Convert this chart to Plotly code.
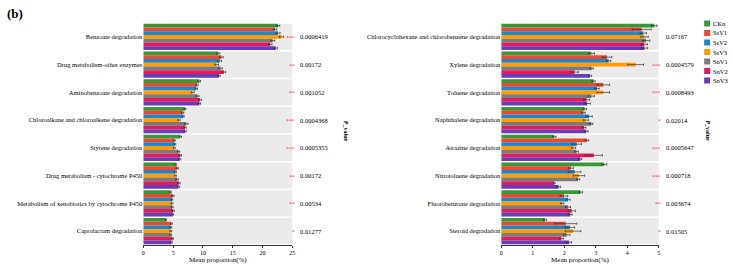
import plotly.graph_objects as go

series = ["CKn", "SsV1", "SsV2", "SsV3", "SnV1", "SnV2", "SnV3"]
colors = ["#3a983a", "#ea4a2f", "#1f86cc", "#ff9d00", "#7b7b7b", "#e41b5c", "#6a3db8"]

left_cats = ["Benzoate degradation", "Drug metabolism-other enzymes", "Aminobenzoate degradation",
             "Chloroalkane and chloroalkene degradation", "Styrene degradation",
             "Drug metabolism - cytochrome P450", "Metabolism of xenobiotics by cytochrome P450",
             "Caprolactam degradation"]
left_vals = {
    "CKn":  [22.6, 12.6, 9.4, 7.0, 6.2, 5.45, 4.55, 3.8],
    "SsV1": [22.1, 13.1, 9.0, 6.6, 5.2, 5.7, 4.95, 4.7],
    "SsV2": [22.6, 12.8, 8.9, 6.7, 5.3, 5.4, 4.8, 4.6],
    "SsV3": [23.2, 12.3, 8.3, 6.0, 5.2, 5.4, 4.8, 4.6],
    "SnV1": [21.7, 12.95, 9.1, 7.2, 5.9, 5.65, 4.85, 4.6],
    "SnV2": [21.3, 13.5, 9.5, 7.0, 6.2, 5.95, 5.0, 4.9],
    "SnV3": [22.2, 12.7, 9.4, 7.0, 6.1, 5.9, 4.95, 4.7],
}
left_err = {
    "CKn":  [0.3, 0.25, 0.2, 0.15, 0.2, 0.15, 0.15, 0.1],
    "SsV1": [0.3, 0.3, 0.2, 0.2, 0.15, 0.2, 0.2, 0.15],
    "SsV2": [0.35, 0.3, 0.2, 0.15, 0.15, 0.15, 0.15, 0.15],
    "SsV3": [0.35, 0.3, 0.25, 0.2, 0.15, 0.15, 0.15, 0.15],
    "SnV1": [0.35, 0.3, 0.25, 0.3, 0.2, 0.2, 0.15, 0.15],
    "SnV2": [0.3, 0.3, 0.25, 0.2, 0.2, 0.2, 0.2, 0.15],
    "SnV3": [0.3, 0.2, 0.2, 0.2, 0.2, 0.2, 0.15, 0.15],
}
left_p = ["0.0006419", "0.00172", "0.001052", "0.0004368", "0.0005355", "0.00172", "0.00534", "0.01277"]

right_cats = ["Chlorocyclohexane and chlorobenzene degradation", "Xylene degradation", "Toluene degradation",
              "Naphthalene degradation", "Atrazine degradation", "Nitrotoluene degradation",
              "Fluorobenzoate degradation", "Steroid degradation"]
right_vals = {
    "CKn":  [4.86, 2.86, 2.93, 2.65, 1.68, 3.27, 2.52, 1.39],
    "SsV1": [4.46, 3.36, 3.24, 2.61, 2.72, 2.21, 1.99, 2.05],
    "SsV2": [4.51, 3.41, 3.04, 2.79, 2.40, 2.33, 2.12, 2.18],
    "SsV3": [4.55, 4.27, 3.24, 2.69, 2.30, 2.47, 1.94, 2.28],
    "SnV1": [4.60, 2.87, 2.86, 2.86, 2.39, 2.44, 2.12, 2.08],
    "SnV2": [4.54, 2.33, 2.71, 2.63, 2.94, 1.68, 2.24, 1.91],
    "SnV3": [4.55, 2.82, 2.73, 2.70, 2.51, 1.82, 2.19, 2.15],
}
right_err = {
    "CKn":  [0.08, 0.1, 0.05, 0.06, 0.06, 0.08, 0.06, 0.05],
    "SsV1": [0.3, 0.15, 0.2, 0.06, 0.06, 0.08, 0.12, 0.35],
    "SsV2": [0.1, 0.07, 0.07, 0.1, 0.15, 0.2, 0.06, 0.15],
    "SsV3": [0.12, 0.25, 0.2, 0.08, 0.06, 0.18, 0.05, 0.25],
    "SnV1": [0.12, 0.05, 0.1, 0.05, 0.06, 0.05, 0.08, 0.1],
    "SnV2": [0.1, 0.12, 0.1, 0.06, 0.27, 0.03, 0.12, 0.06],
    "SnV3": [0.1, 0.05, 0.1, 0.06, 0.05, 0.06, 0.06, 0.08],
}
right_p = ["0.07167", "0.0004579", "0.0008493", "0.02014", "0.0005647", "0.000718", "0.003674", "0.01505"]

W, H = 732, 267
FONT = "Liberation Serif"
TXT = "#000000"
ytop, ybot = 23, 245
L = (142.3, 292.3)
R = (502.7, 661.2)


def stars(p):
    v = float(p)
    return "***" if v < 0.001 else "**" if v < 0.01 else "*" if v < 0.05 else ""


fig = go.Figure()
for s, c in zip(series, colors):
    fig.add_trace(go.Bar(y=left_cats, x=left_vals[s], orientation="h", name=s, marker_color=c,
                         marker_line_width=0, xaxis="x", yaxis="y", showlegend=False,
                         error_x=dict(type="data", array=left_err[s], color="#333333",
                                      thickness=0.7, width=1.2)))
for s, c in zip(series, colors):
    fig.add_trace(go.Bar(y=right_cats, x=right_vals[s], orientation="h", name=s, marker_color=c,
                         marker_line_width=0, xaxis="x2", yaxis="y2", showlegend=False,
                         error_x=dict(type="data", array=right_err[s], color="#333333",
                                      thickness=0.7, width=1.2)))

shapes = []
ann = []
for xr, yr, cats in (("x", "y", left_cats), ("x2", "y2", right_cats)):
    for i in range(len(cats)):
        shapes.append(dict(type="rect", xref=xr + " domain", yref=yr, x0=0, x1=1,
                           y0=i - 0.47, y1=i + 0.47, fillcolor="#ebebeb", line_width=0,
                           layer="below"))

for yr, cats, ps, xs in (("y", left_cats, left_p, 297.5), ("y2", right_cats, right_p, 666.5)):
    for cat, p in zip(cats, ps):
        ann.append(dict(xref="paper", yref=yr, x=(xs + 0.5) / W, y=cat, text=p, showarrow=False,
                        xanchor="left", yanchor="middle", font=dict(family=FONT, size=6.5, color=TXT)))
        st = stars(p)
        if st:
            ann.append(dict(xref="paper", yref=yr, x=(xs - 0.5) / W, y=cat, text=st, showarrow=False,
                            xanchor="right", yanchor="middle", yshift=-1,
                            font=dict(family=FONT, size=5.5, color="#ff3030")))

for xp in (346.5, 715.5):
    ann.append(dict(xref="paper", yref="paper", x=xp / W, y=1 - 131 / H, text="<b><i>P</i>_value</b>",
                    textangle=90, showarrow=False, font=dict(family=FONT, size=6, color=TXT)))

ann.append(dict(xref="paper", yref="paper", x=3 / W, y=1 - 4 / H, text="<b>(b)</b>", showarrow=False,
                xanchor="left", yanchor="top", font=dict(family=FONT, size=13, color=TXT)))

# manual legend
for k, (s, c) in enumerate(zip(series, colors)):
    yc = 23.5 + k * 9.5
    shapes.append(dict(type="rect", xref="paper", yref="paper", x0=707 / W, x1=713 / W,
                       y0=1 - (yc + 3) / H, y1=1 - (yc - 3) / H, fillcolor=c, line_width=0))
    ann.append(dict(xref="paper", yref="paper", x=714 / W, y=1 - yc / H, text=s, showarrow=False,
                    xanchor="left", yanchor="middle", font=dict(family=FONT, size=6.5, color=TXT)))

yd = [1 - ybot / H, 1 - ytop / H]
xax = dict(showgrid=False, zeroline=False, showline=True, linecolor="#333", linewidth=0.7,
           ticks="outside", ticklen=2, tickwidth=0.7, tickcolor="#333",
           tickfont=dict(family=FONT, size=6, color=TXT),
           title=dict(text="Mean proportion(%)", font=dict(family=FONT, size=7, color=TXT), standoff=2))
yax = dict(type="category", autorange="reversed", showgrid=False, zeroline=False, showline=False,
           ticks="", tickfont=dict(family=FONT, size=6.5, color=TXT), domain=yd)

fig.update_layout(
    width=W, height=H, margin=dict(l=0, r=0, t=0, b=0),
    paper_bgcolor="white", plot_bgcolor="white",
    barmode="group", bargap=0.06, bargroupgap=0,
    xaxis=dict(xax, domain=[L[0] / W, L[1] / W], range=[0, 25], tickvals=[0, 5, 10, 15, 20, 25], anchor="y"),
    yaxis=dict(yax, anchor="x"),
    xaxis2=dict(xax, domain=[R[0] / W, R[1] / W], range=[0, 5], tickvals=[0, 1, 2, 3, 4, 5], anchor="y2"),
    yaxis2=dict(yax, anchor="x2"),
    shapes=shapes, annotations=ann, showlegend=False,
)

fig.write_html("out.html")
